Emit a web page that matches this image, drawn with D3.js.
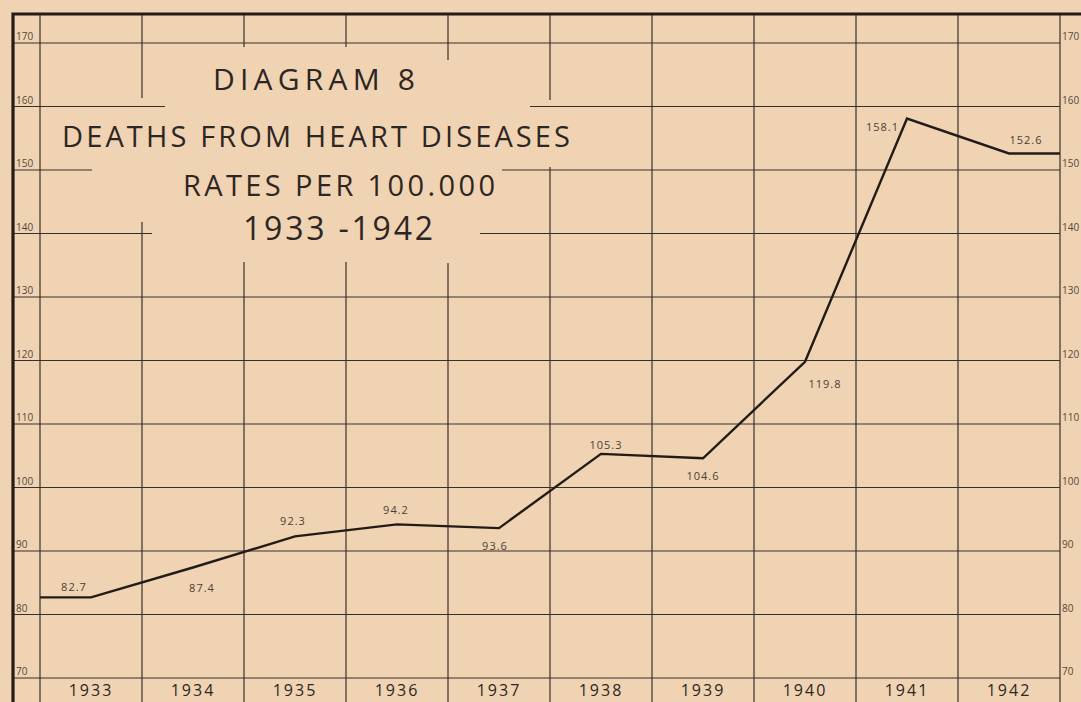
<!DOCTYPE html>
<html>
<head>
<meta charset="utf-8">
<script src="https://cdn.jsdelivr.net/npm/d3@7"></script>
<style>
  html, body { margin: 0; padding: 0; background: #efd3b3; }
  svg { display: block; }
  text { font-family: "Open Sans", "DejaVu Sans", sans-serif; fill: #2e2622; }
</style>
</head>
<body>
<svg id="svg"></svg>
<script>
// data
var years = ['1933', '1934', '1935', '1936', '1937', '1938', '1939', '1940', '1941', '1942'];
var rates = [82.7, 87.4, 92.3, 94.2, 93.6, 105.3, 104.6, 119.8, 158.1, 152.6];
var yTicks = [70, 80, 90, 100, 110, 120, 130, 140, 150, 160, 170];
var titleLines = ['DIAGRAM 8', 'DEATHS FROM HEART DISEASES', 'RATES PER 100.000', '1933 -1942'];

var width = 1081, height = 702;

var svg = d3.select('#svg')
  .attr('width', width)
  .attr('height', height);

svg.append('rect')
  .attr('width', width).attr('height', height)
  .attr('fill', '#efd3b3');

var x = d3.scaleBand().domain(years).range([40, 1060]).padding(0);
var y = d3.scaleLinear().domain([70, 170]).range([678, 43]);

var frameX = 13, frameY = 14;

// grid lines are broken around the title block, like the hand ruled original
var hGaps = { 160: [165, 530], 150: [92, 502], 140: [152, 480] };
var vGaps = { 1: [98, 222], 2: [47, 262], 3: [47, 262], 4: [60, 263], 5: [100, 167] };

var grid = svg.append('g')
  .attr('stroke', '#3a302a')
  .attr('stroke-width', 1.2)
  .attr('fill', 'none');

yTicks.forEach(function (t) {
  var yy = y(t);
  var segs = [[frameX, x.range()[1]]];
  if (hGaps[t]) segs = [[frameX, hGaps[t][0]], [hGaps[t][1], x.range()[1]]];
  segs.forEach(function (s) {
    grid.append('line')
      .attr('x1', s[0]).attr('x2', s[1])
      .attr('y1', yy).attr('y2', yy);
  });
});

d3.range(years.length + 1).forEach(function (i) {
  var xx = x.range()[0] + i * x.step();
  var segs = [[frameY, height]];
  if (vGaps[i]) segs = [[frameY, vGaps[i][0]], [vGaps[i][1], height]];
  segs.forEach(function (s) {
    grid.append('line')
      .attr('x1', xx).attr('x2', xx)
      .attr('y1', s[0]).attr('y2', s[1]);
  });
});

// heavy frame, top and left
svg.append('path')
  .attr('d', 'M' + frameX + ' ' + height + ' L' + frameX + ' ' + frameY + ' L' + width + ' ' + frameY)
  .attr('stroke', '#241c18')
  .attr('stroke-width', 3.2)
  .attr('fill', 'none');

// scale numbers on both sides
svg.append('g').selectAll('text')
  .data(yTicks)
  .join('text')
  .attr('x', 16)
  .attr('y', function (d) { return y(d) - 3; })
  .attr('font-size', 10)
  .attr('opacity', 0.8)
  .text(function (d) { return d; });

svg.append('g').selectAll('text')
  .data(yTicks)
  .join('text')
  .attr('x', 1062)
  .attr('y', function (d) { return y(d) - 3; })
  .attr('font-size', 10)
  .attr('opacity', 0.8)
  .text(function (d) { return d; });

// year labels under the bottom line
svg.append('g').selectAll('text')
  .data(years)
  .join('text')
  .attr('x', function (d) { return x(d) + x.bandwidth() / 2; })
  .attr('y', 696)
  .attr('text-anchor', 'middle')
  .attr('font-size', 16)
  .attr('letter-spacing', 2)
  .text(function (d) { return d; });

// the rate line, flat to the edges at both ends
var pts = rates.map(function (v, i) { return [x(years[i]) + x.bandwidth() / 2, y(v)]; });
pts.unshift([x.range()[0], y(rates[0])]);
pts.push([x.range()[1], y(rates[rates.length - 1])]);

svg.append('path')
  .attr('d', d3.line()(pts))
  .attr('stroke', '#231b17')
  .attr('stroke-width', 2.4)
  .attr('stroke-linejoin', 'miter')
  .attr('fill', 'none');

// value labels beside each point
var labelOffsets = [[-17, -6], [9, 24], [-2, -11], [-1, -10], [-4, 22], [5, -5], [0, 22], [20, 26], [-8, 12], [17, -9]];
var labelAnchors = ['middle', 'middle', 'middle', 'middle', 'middle', 'middle', 'middle', 'middle', 'end', 'middle'];

svg.append('g').selectAll('text')
  .data(rates)
  .join('text')
  .attr('x', function (d, i) { return x(years[i]) + x.bandwidth() / 2 + labelOffsets[i][0]; })
  .attr('y', function (d, i) { return y(d) + labelOffsets[i][1]; })
  .attr('text-anchor', function (d, i) { return labelAnchors[i]; })
  .attr('font-size', 11)
  .attr('letter-spacing', 1)
  .attr('opacity', 0.85)
  .text(function (d) { return d3.format('.1f')(d); });

// title block
var titleLayout = [
  { cx: 314, y: 90, size: 30, len: 202 },
  { cx: 316, y: 147, size: 29, len: 508 },
  { cx: 339, y: 196, size: 29, len: 312 },
  { cx: 338, y: 240, size: 32, len: 190 }
];

svg.append('g').selectAll('text')
  .data(titleLines)
  .join('text')
  .attr('x', function (d, i) { return titleLayout[i].cx; })
  .attr('y', function (d, i) { return titleLayout[i].y; })
  .attr('text-anchor', 'middle')
  .attr('font-size', function (d, i) { return titleLayout[i].size; })
  .attr('textLength', function (d, i) { return titleLayout[i].len; })
  .attr('lengthAdjust', 'spacing')
  .text(function (d) { return d; });
</script>
</body>
</html>
